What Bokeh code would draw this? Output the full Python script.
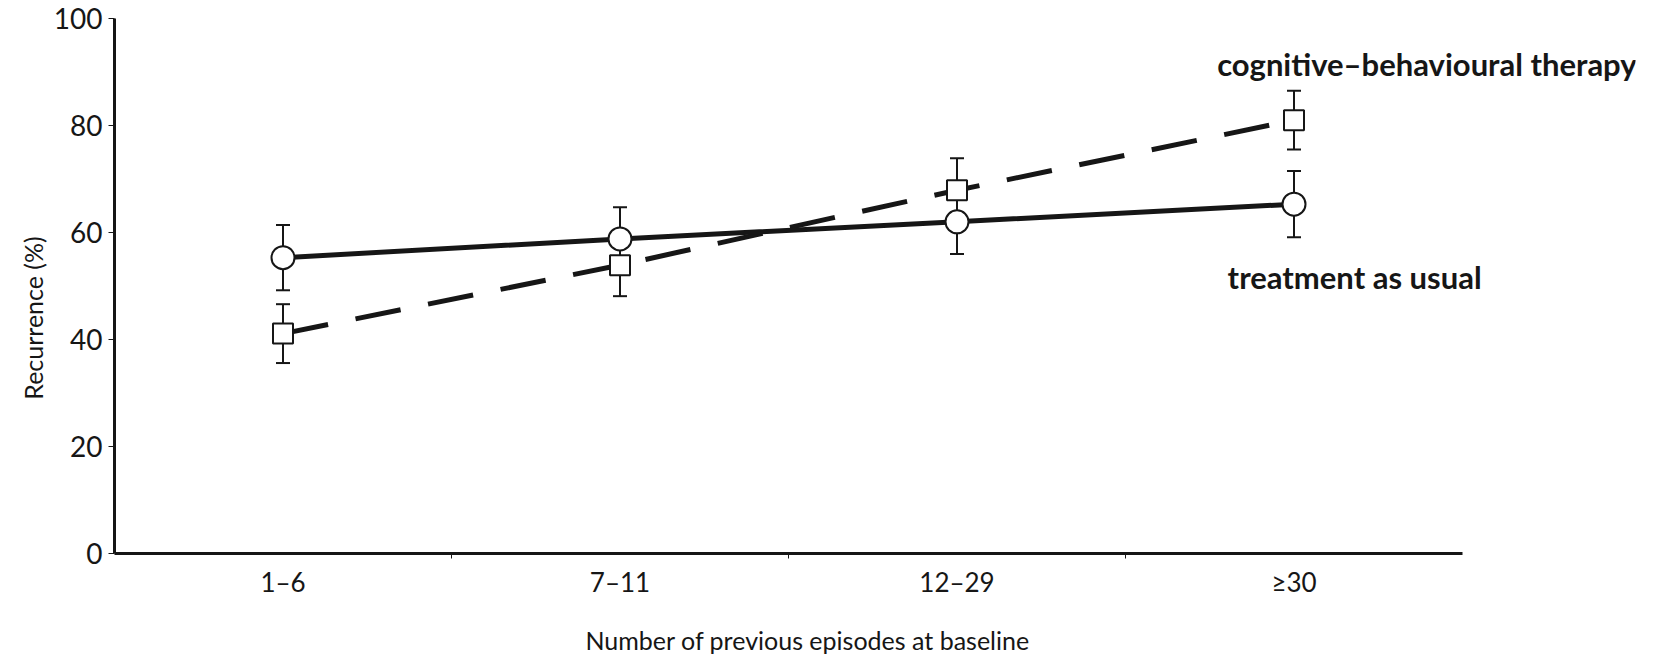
import numpy as np
from bokeh.plotting import figure
from bokeh.models import (ColumnDataSource, Whisker, TeeHead, FixedTicker, Label, Range1d)
from bokeh.embed import file_html
from bokeh.resources import INLINE

categories = ["1–6", "7–11", "12–29", "≥30"]
tau_values = [55.3, 58.8, 62.0, 65.3]
tau_err = [6.1, 5.9, 6.0, 6.2]
cbt_values = [41.1, 53.9, 67.9, 81.0]
cbt_err = [5.5, 5.8, 6.0, 5.5]
y_ticks = [0, 20, 40, 60, 80, 100]

FONT = "Lato"
INK = "#161616"
NB = "\u00a0"

n = len(categories)
xpos = [i + 0.5 for i in range(n)]

FIG_W, FIG_H = 1639, 657
BL, BR, BT, BB = 114, 4, 18, 78
PX_PER_CAT = 337.0
x_end = (FIG_W - BL - BR) / PX_PER_CAT

p = figure(width=FIG_W, height=FIG_H, output_backend="svg", toolbar_location=None,
           x_range=Range1d(0, x_end), y_range=Range1d(0, 100),
           min_border_left=BL, min_border_right=BR, min_border_top=BT,
           min_border_bottom=BB)
p.outline_line_color = None
p.grid.visible = False
p.background_fill_color = "white"
p.border_fill_color = "white"

tau_src = ColumnDataSource(dict(x=xpos, y=tau_values,
                                lo=[v - e for v, e in zip(tau_values, tau_err)],
                                hi=[v + e for v, e in zip(tau_values, tau_err)]))
cbt_src = ColumnDataSource(dict(x=xpos, y=cbt_values,
                                lo=[v - e for v, e in zip(cbt_values, cbt_err)],
                                hi=[v + e for v, e in zip(cbt_values, cbt_err)]))

for src in (tau_src, cbt_src):
    w = Whisker(base="x", lower="lo", upper="hi", source=src, line_color=INK, line_width=2,
                upper_head=TeeHead(size=14, line_width=2, line_color=INK),
                lower_head=TeeHead(size=14, line_width=2, line_color=INK),
                level="underlay")
    p.add_layout(w)

p.line("x", "y", source=cbt_src, line_color=INK, line_width=5, line_dash="46 28")
p.line("x", "y", source=tau_src, line_color=INK, line_width=5)
p.scatter("x", "y", source=cbt_src, marker="square", size=20, fill_color="white",
          line_color=INK, line_width=2)
p.scatter("x", "y", source=tau_src, marker="circle", size=23, fill_color="white",
          line_color=INK, line_width=2)

# x axis
xa = p.xaxis[0]
xa.bounds = (0, n)
xa.ticker = FixedTicker(ticks=xpos, minor_ticks=list(range(1, n)))
xa.major_label_overrides = {x: c for x, c in zip(xpos, categories)}
xa.major_tick_out = 0
xa.major_tick_in = 0
xa.minor_tick_out = 5
xa.minor_tick_in = 0
xa.minor_tick_line_color = INK
xa.minor_tick_line_width = 1
xa.axis_line_width = 3
xa.axis_line_color = INK
xa.major_label_text_font = FONT
xa.major_label_text_font_size = "26px"
xa.major_label_text_color = INK
xa.major_label_standoff = 7
xa.axis_label = "Number of previous episodes at baseline" + NB * 21
xa.axis_label_text_font = FONT
xa.axis_label_text_font_style = "normal"
xa.axis_label_text_font_size = "25px"
xa.axis_label_text_color = INK
xa.axis_label_standoff = 24

ya = p.yaxis[0]
ya.ticker = FixedTicker(ticks=y_ticks, minor_ticks=[])
ya.major_tick_out = 6
ya.major_tick_in = 0
ya.major_tick_line_width = 1
ya.major_tick_line_color = INK
ya.axis_line_width = 3
ya.axis_line_color = INK
ya.major_label_text_font = FONT
ya.major_label_text_font_size = "28px"
ya.major_label_text_color = INK
ya.major_label_standoff = 6
ya.axis_label = "Recurrence (%)" + NB * 10
ya.axis_label_text_font = FONT
ya.axis_label_text_font_style = "normal"
ya.axis_label_text_font_size = "25px"
ya.axis_label_text_color = INK
ya.axis_label_standoff = 3

p.add_layout(Label(x=3.272, y=91.5, text="cognitive–behavioural therapy",
                   text_font=FONT, text_font_style="bold", text_font_size="31px",
                   text_color=INK, text_align="left", text_baseline="middle"))
p.add_layout(Label(x=3.303, y=51.7, text="treatment as usual",
                   text_font=FONT, text_font_style="bold", text_font_size="31px",
                   text_color=INK, text_align="left", text_baseline="middle"))

open("out.html", "w").write(file_html(p, INLINE))
